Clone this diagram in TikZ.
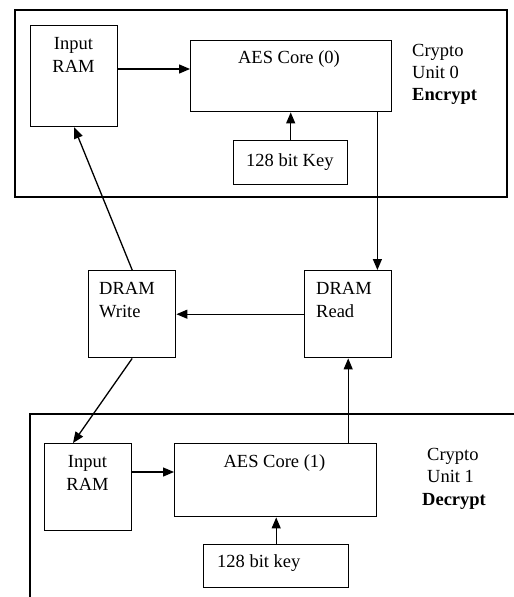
\documentclass[tikz,border=0pt]{standalone}
\usepackage{fontspec}
\setmainfont{Liberation Serif}
\usetikzlibrary{arrows.meta}
\begin{document}
\begin{tikzpicture}[x=1pt,y=-1pt,
  blk/.style={draw, line width=1.4pt, anchor=north west, inner sep=0pt},
  txt/.style={font=\fontsize{18.5}{23}\selectfont, inner sep=0pt},
  arr/.style={line width=1.3pt, -{Triangle[length=11pt,width=9pt]}},
  ln/.style={line width=1.4pt}]
\useasboundingbox (0,0) rectangle (514,597);
% outer boxes
\draw[ln] (15,10) rectangle (507,197);
\draw[ln] (30,597) -- (30,414) -- (514,414);
% top unit
\node[blk, minimum width=87pt, minimum height=101pt] (in0) at (30,25) {};
\node[blk, minimum width=201pt, minimum height=71pt] (aes0) at (190,40) {};
\node[blk, minimum width=114pt, minimum height=44pt] (key0) at (233,140) {};
\node[txt, anchor=base] (in0a) at (73.5,49) {Input};
\node[txt, anchor=base] (in0b) at (73.5,72) {RAM};
\node[txt, anchor=base] (aes0t) at (289,63) {AES Core (0)};
\node[txt, anchor=base west] (key0t) at (246,166) {128 bit Key};
\node[txt, anchor=base west] (cu0a) at (412,56) {Crypto};
\node[txt, anchor=base west] (cu0b) at (412,78) {Unit 0};
\node[txt, anchor=base west] (cu0c) at (412,100) {\textbf{Encrypt}};
% DRAM
\node[blk, minimum width=87pt, minimum height=87pt] (wr) at (88,270) {};
\node[blk, minimum width=87pt, minimum height=87pt] (rd) at (304,270) {};
\node[txt, anchor=base west] (wra) at (99,294) {DRAM};
\node[txt, anchor=base west] (wrb) at (99,317) {Write};
\node[txt, anchor=base west] (rda) at (316,294) {DRAM};
\node[txt, anchor=base west] (rdb) at (316,317) {Read};
% bottom unit
\node[blk, minimum width=87pt, minimum height=87pt] (in1) at (44,443) {};
\node[blk, minimum width=202pt, minimum height=73pt] (aes1) at (174,443) {};
\node[blk, minimum width=145pt, minimum height=43pt] (key1) at (203,544) {};
\node[txt, anchor=base] (in1a) at (87.5,467) {Input};
\node[txt, anchor=base] (in1b) at (87.5,490) {RAM};
\node[txt, anchor=base] (aes1t) at (274.5,467) {AES Core (1)};
\node[txt, anchor=base west] (key1t) at (217,567) {128 bit key};
\node[txt, anchor=base west] (cu1a) at (427,460) {Crypto};
\node[txt, anchor=base west] (cu1b) at (427,482) {Unit 1};
\node[txt, anchor=base west] (cu1c) at (422,505) {\textbf{Decrypt}};
% connectors
\draw[arr] ([yshift=-44pt]in0.north east) coordinate (a1) -- (a1 -| aes0.west);
\draw[arr] (key0.north) -- (key0.north |- aes0.south);
\draw[arr] ([xshift=-15pt]aes0.south east) coordinate (a2) -- (a2 |- rd.north);
\draw[arr] (rd.west) -- (wr.east);
\draw[arr] (wr.north) -- (in0.south);
\draw[arr] (wr.south) -- ([xshift=29pt]in1.north west);
\draw[arr] ([yshift=-29pt]in1.north east) coordinate (a3) -- (a3 -| aes1.west);
\draw[arr] (key1.north) -- (key1.north |- aes1.south);
\draw[arr] (rd.south |- aes1.north) -- (rd.south);
\end{tikzpicture}
\end{document}
